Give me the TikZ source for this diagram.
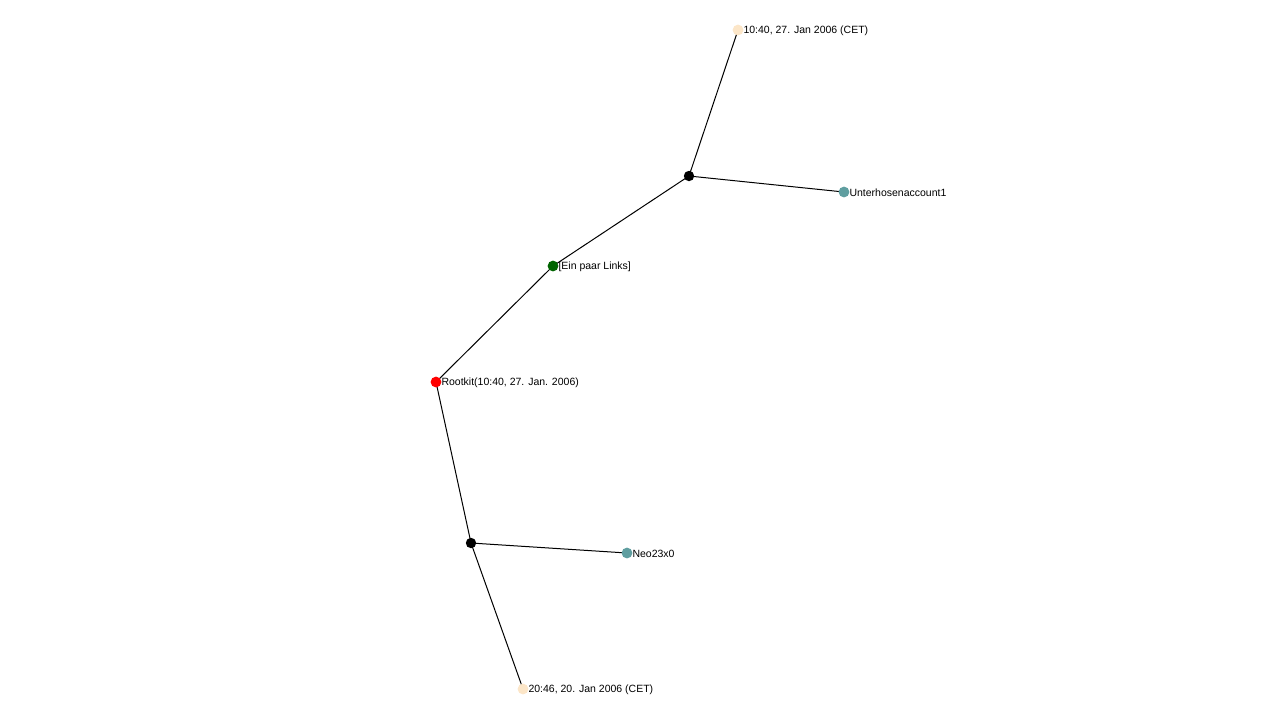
\documentclass[tikz,border=0pt]{standalone}
\usepackage{fontspec}
\setmainfont{Liberation Sans}
\usetikzlibrary{positioning}
\definecolor{peach}{HTML}{FCE6C8}
\definecolor{account}{HTML}{5F9EA0}
\definecolor{linkgreen}{HTML}{006400}

\begin{document}
\begin{tikzpicture}[x=1pt, y=1pt, line width=0.5pt,
    tag/.style={right=2.1pt, yshift=-0.6pt, inner sep=0.4pt, font=\fontsize{5.25pt}{6pt}\selectfont}]
    \useasboundingbox (0,0) rectangle (640,-360);
    \coordinate (root) at (218,-191);
    \coordinate[above right=58pt and 58.5pt of root] (links);
    \coordinate[above right=45pt and 68pt of links] (j1);
    \coordinate[above right=73pt and 24.5pt of j1] (top);
    \coordinate[below right=8pt and 77.5pt of j1] (unterhosen);
    \coordinate[below right=80.5pt and 17.5pt of root] (j2);
    \coordinate[below right=5pt and 78pt of j2] (neo);
    \coordinate[below right=73pt and 26pt of j2] (bottom);
    \draw (root) -- (links) -- (j1) -- (top);
    \draw (j1) -- (unterhosen);
    \draw (root) -- (j2) -- (bottom);
    \draw (j2) -- (neo);
    \fill[red] (root) circle (2.7pt);
    \fill[linkgreen] (links) circle (2.7pt);
    \fill[black] (j1) circle (2.6pt);
    \fill[black] (j2) circle (2.6pt);
    \fill[peach] (top) circle (2.7pt);
    \fill[peach] (bottom) circle (2.7pt);
    \fill[account] (unterhosen) circle (2.7pt);
    \fill[account] (neo) circle (2.7pt);
    \node [tag] at (root) {Rootkit(10:40, 27. Jan. 2006)};
    \node [tag] at (links) {[Ein paar Links]};
    \node [tag] at (top) {10:40, 27. Jan 2006 (CET)};
    \node [tag] at (unterhosen) {Unterhosenaccount1};
    \node [tag] at (neo) {Neo23x0};
    \node [tag] at (bottom) {20:46, 20. Jan 2006 (CET)};
\end{tikzpicture}
\end{document}
